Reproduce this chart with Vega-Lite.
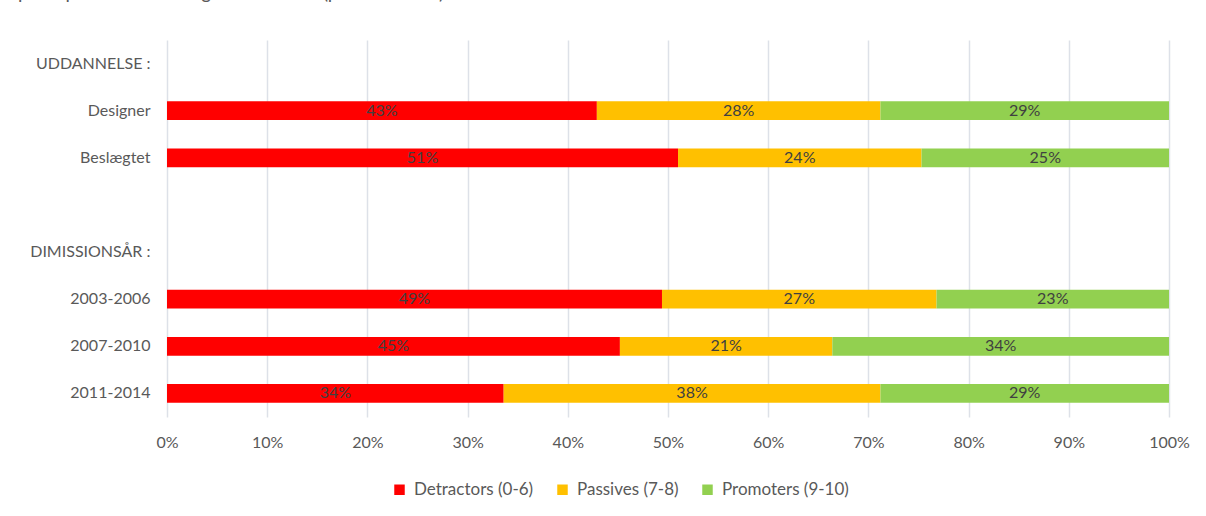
{
  "$schema": "https://vega.github.io/schema/vega-lite/v6.json",
  "width": 1002,
  "height": 377,
  "autosize": {"type": "none"},
  "padding": {"left": 167, "top": 40, "right": 37, "bottom": 99},
  "background": "white",
  "title": {
    "text": "Opdelt på uddannelse og dimissionsår (på skala 0-10)",
    "anchor": "start",
    "frame": "group",
    "dx": -164,
    "offset": 34,
    "dy": 12,
    "baseline": "alphabetic",
    "font": "Lato",
    "fontSize": 19,
    "fontWeight": "normal",
    "color": "#595959"
  },
  "data": {
    "values": [
      {"gruppe": "Designer", "kategori": "Detractors (0-6)", "orden": 1, "andel": 0.429},
      {"gruppe": "Designer", "kategori": "Passives (7-8)", "orden": 2, "andel": 0.283},
      {"gruppe": "Designer", "kategori": "Promoters (9-10)", "orden": 3, "andel": 0.288},
      {"gruppe": "Beslægtet", "kategori": "Detractors (0-6)", "orden": 1, "andel": 0.510},
      {"gruppe": "Beslægtet", "kategori": "Passives (7-8)", "orden": 2, "andel": 0.243},
      {"gruppe": "Beslægtet", "kategori": "Promoters (9-10)", "orden": 3, "andel": 0.247},
      {"gruppe": "2003-2006", "kategori": "Detractors (0-6)", "orden": 1, "andel": 0.494},
      {"gruppe": "2003-2006", "kategori": "Passives (7-8)", "orden": 2, "andel": 0.274},
      {"gruppe": "2003-2006", "kategori": "Promoters (9-10)", "orden": 3, "andel": 0.232},
      {"gruppe": "2007-2010", "kategori": "Detractors (0-6)", "orden": 1, "andel": 0.452},
      {"gruppe": "2007-2010", "kategori": "Passives (7-8)", "orden": 2, "andel": 0.212},
      {"gruppe": "2007-2010", "kategori": "Promoters (9-10)", "orden": 3, "andel": 0.336},
      {"gruppe": "2011-2014", "kategori": "Detractors (0-6)", "orden": 1, "andel": 0.336},
      {"gruppe": "2011-2014", "kategori": "Passives (7-8)", "orden": 2, "andel": 0.376},
      {"gruppe": "2011-2014", "kategori": "Promoters (9-10)", "orden": 3, "andel": 0.288}
    ]
  },
  "encoding": {
    "y": {
      "field": "gruppe",
      "type": "nominal",
      "scale": {
        "domain": ["UDDANNELSE :", "Designer", "Beslægtet", " ", "DIMISSIONSÅR :", "2003-2006", "2007-2010", "2011-2014"],
        "paddingInner": 0.6,
        "paddingOuter": 0.3
      },
      "axis": {
        "title": null,
        "domain": false,
        "ticks": false,
        "labelPadding": 17,
        "labelFont": "Lato",
        "labelFontSize": 16,
        "labelColor": "#595959"
      }
    },
    "order": {"field": "orden", "type": "quantitative"}
  },
  "layer": [
    {
      "mark": {"type": "bar"},
      "encoding": {
        "x": {
          "field": "andel",
          "type": "quantitative",
          "stack": "zero",
          "scale": {"domain": [0, 1], "nice": false},
          "axis": {
            "title": null,
            "format": ".0%",
            "values": [0, 0.1, 0.2, 0.3, 0.4, 0.5, 0.6, 0.7, 0.8, 0.9, 1],
            "domain": false,
            "ticks": false,
            "grid": true,
            "gridColor": "#DDE1E8",
            "gridWidth": 1.5,
            "labelFlush": false,
            "labelPadding": 17,
            "labelFont": "Lato",
            "labelFontSize": 16,
            "labelColor": "#595959"
          }
        },
        "color": {
          "field": "kategori",
          "type": "nominal",
          "scale": {
            "domain": ["Detractors (0-6)", "Passives (7-8)", "Promoters (9-10)"],
            "range": ["#FF0000", "#FFC000", "#92D050"]
          },
          "legend": {
            "title": null,
            "orient": "none",
            "direction": "horizontal",
            "legendX": 224,
            "legendY": 441,
            "symbolType": "square",
            "symbolSize": 110,
            "symbolStrokeWidth": 0,
            "symbolOpacity": 1,
            "columnPadding": 20,
            "labelOffset": 6,
            "labelFont": "Lato",
            "labelFontSize": 17,
            "labelColor": "#595959"
          }
        }
      }
    },
    {
      "mark": {"type": "text", "font": "Lato", "fontSize": 16, "color": "#404040", "align": "center", "baseline": "middle"},
      "encoding": {
        "x": {"field": "andel", "type": "quantitative", "stack": "zero", "bandPosition": 0.5},
        "detail": {"field": "kategori", "type": "nominal"},
        "text": {"field": "andel", "type": "quantitative", "format": ".0%"}
      }
    }
  ],
  "config": {
    "view": {"stroke": null}
  }
}
